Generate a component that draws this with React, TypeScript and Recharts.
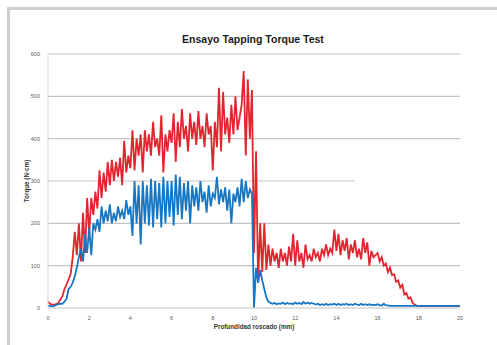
import React from 'react'
import { LineChart, Line, XAxis, YAxis, CartesianGrid, ReferenceLine } from 'recharts'

// depth step of the sampled test (mm)
const STEP = 0.1

const redTorque = [
  15, 10, 8, 8, 9, 12, 20, 28, 45, 55,
  68, 80, 120, 180, 125, 200, 110, 225, 130, 260,
  175, 260, 220, 275, 235, 325, 260, 320, 275, 345,
  290, 350, 300, 345, 310, 355, 290, 395, 320, 360,
  330, 420, 325, 400, 360, 410, 320, 420, 370, 410,
  360, 440, 380, 400, 360, 455, 320, 410, 370, 420,
  390, 460, 345, 440, 380, 470, 400, 430, 370, 460,
  400, 440, 385, 465, 400, 430, 380, 460, 410, 430,
  325, 440, 380, 520, 370, 510, 410, 450, 390, 480,
  410, 500, 420, 450, 480, 560, 360, 540, 400, 515,
  130, 370, 60, 200, 85, 200, 90, 150, 100, 140,
  110, 130, 95, 140, 110, 130, 100, 145, 110, 175,
  100, 160, 110, 130, 95, 150, 115, 125, 110, 140,
  120, 130, 110, 140, 125, 150, 125, 140, 130, 185,
  135, 175, 125, 160, 135, 165, 115, 150, 130, 160,
  120, 140, 115, 165, 130, 155, 100, 135, 120, 125,
  130, 110, 120, 100, 105, 85, 95, 78, 80, 62,
  65, 48, 55, 32, 35, 22, 25, 12, 8, 5,
  5, 5, 5, 5, 5, 5, 5, 5, 5, 5,
  5, 5, 5, 5, 5, 5, 5, 5, 5, 5,
  5,
]

const blueTorque = [
  5, 5, 4, 5, 7, 9, 10, 10, 15, 22,
  45, 50, 60, 75, 95, 120, 140, 110, 175, 130,
  190, 125, 200, 185, 210, 180, 240, 200, 230, 205,
  245, 200, 225, 205, 240, 215, 230, 210, 255, 220,
  240, 170, 300, 200, 290, 150, 300, 200, 290, 195,
  305, 190, 300, 210, 295, 190, 310, 200, 300, 215,
  300, 195, 315, 220, 310, 210, 295, 230, 300, 200,
  290, 240, 285, 230, 300, 250, 275, 225, 290, 240,
  270, 260, 310, 245, 280, 250, 285, 230, 280, 200,
  270, 250, 285, 240, 305, 250, 300, 260, 280, 270,
  0, 95, 60, 90, 65, 45, 25, 15, 12, 10,
  12, 9, 11, 10, 13, 9, 12, 10, 11, 9,
  13, 10, 12, 9, 14, 10, 13, 10, 12, 10,
  8, 10, 7, 9, 7, 10, 7, 9, 8, 10,
  7, 10, 7, 9, 8, 10, 7, 9, 7, 10,
  8, 7, 10, 7, 9, 7, 9, 7, 8, 7,
  9, 7, 6, 10, 6, 6, 5, 5, 5, 5,
  5, 5, 5, 5, 5, 5, 5, 5, 5, 5,
  5, 5, 5, 5, 5, 5, 5, 5, 5, 5,
  5, 5, 5, 5, 5, 5, 5, 5, 5, 5,
  5,
]

const xTicks = [0, 2, 4, 6, 8, 10, 12, 14, 16, 18, 20]
const yTicks = [0, 100, 200, 300, 400, 500, 600]

const data = redTorque.map((r, i) => ({
  depth: Math.round(i * STEP * 10) / 10,
  red: r,
  blue: blueTorque[i],
}))

const font = '"Liberation Sans", Arial, sans-serif'
const tickStyle = { fontSize: 5.5, fill: '#595959', fontFamily: font }

export default function App() {
  return (
    <div style={{ position: 'absolute', left: 0, top: 0, width: 497, height: 345, background: '#fff', overflow: 'hidden' }}>
      <div style={{ position: 'absolute', left: 7, top: 7, width: 500, height: 350, borderTop: '3px solid #cfcfcf', borderLeft: '3px solid #cfcfcf' }} />
      <div style={{ position: 'absolute', left: 0, width: 506, top: 33, textAlign: 'center', fontFamily: font, fontWeight: 700, fontSize: 10.5, color: '#1a1a1a' }}>
        Ensayo Tapping Torque Test
      </div>
      <LineChart width={497} height={345} data={data} margin={{ top: 54, right: 37, bottom: 7, left: 0 }} style={{ position: 'absolute', left: 0, top: 0 }}>
        <CartesianGrid vertical={false} stroke="#c4c4c4" strokeWidth={1.2}
          horizontalValues={[100, 200, 400, 500, 600]} />
        <ReferenceLine segment={[{ x: 0, y: 300 }, { x: 14.9, y: 300 }]} stroke="#c4c4c4" strokeWidth={1.2} ifOverflow="visible" />
        <XAxis dataKey="depth" type="number" domain={[0, 20]} ticks={xTicks} height={30}
          tick={tickStyle} tickLine={false} stroke="#bfbfbf"
          label={{ value: 'Profundidad roscado (mm)', position: 'insideBottom', offset: 9, style: { fontSize: 6.3, fontWeight: 700, fill: '#333', fontFamily: font } }} />
        <YAxis domain={[0, 600]} ticks={yTicks} width={48}
          tick={tickStyle} tickLine={false} stroke="#d9d9d9"
          label={{ value: 'Torque (N·cm)', angle: -90, position: 'insideLeft', offset: 27, style: { fontSize: 6.3, fontWeight: 700, fill: '#333', fontFamily: font, textAnchor: 'middle' } }} />
        <Line type="linear" dataKey="red" stroke="#e3252f" strokeWidth={1.8} dot={false} isAnimationActive={false} />
        <Line type="linear" dataKey="blue" stroke="#1677c4" strokeWidth={1.8} dot={false} isAnimationActive={false} />
      </LineChart>
    </div>
  )
}
